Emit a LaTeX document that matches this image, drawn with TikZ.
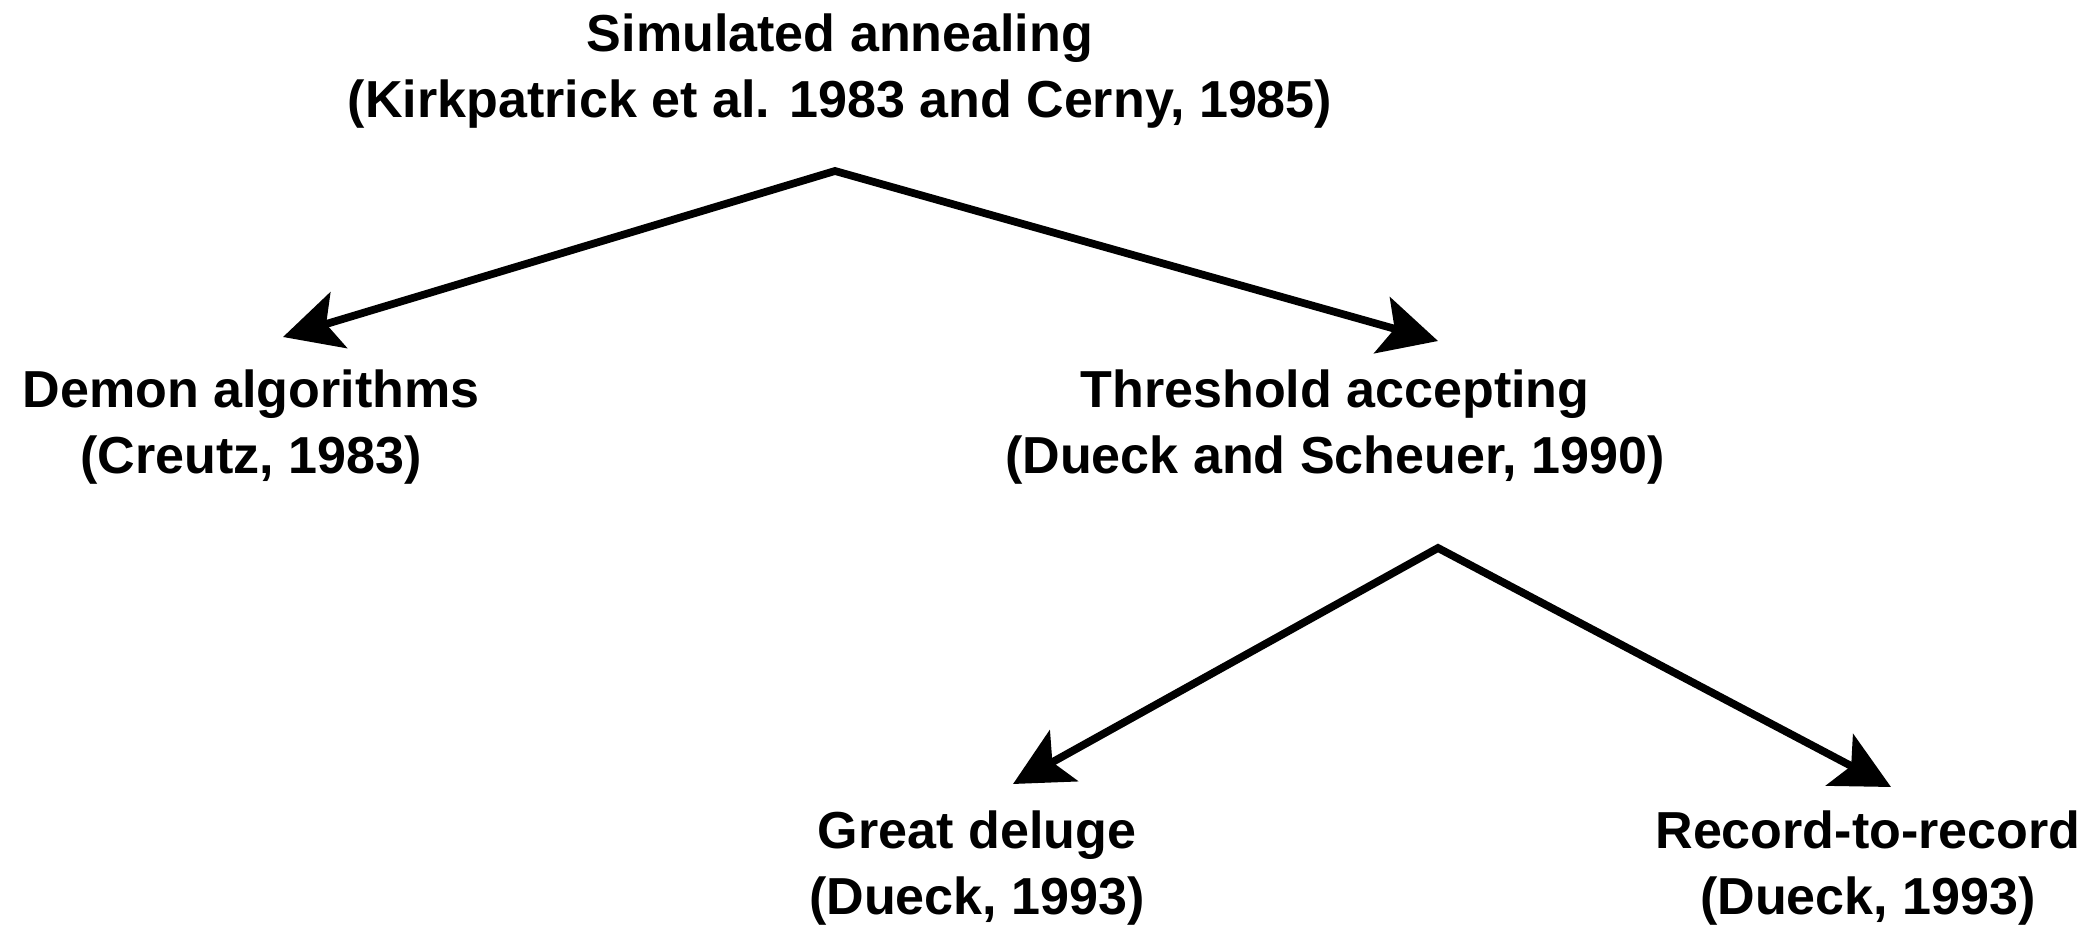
\documentclass[tikz,border=0pt]{standalone}
\usepackage{fontspec}
\setmainfont{Liberation Sans}
\usetikzlibrary{arrows.meta}
\begin{document}
\begin{tikzpicture}[x=0.01cm,y=-0.01cm,
  lbl/.style={align=center, inner sep=0pt, font=\fontsize{14.8}{19}\selectfont\bfseries},
  tipshape/.style={},
  link/.style={line width=2.2pt, line join=miter,
    {Stealth[length=5.8mm,width=5.8mm,inset=1.3mm]}-{Stealth[length=5.8mm,width=5.8mm,inset=1.3mm]}}]
\useasboundingbox (0,0) rectangle (2097,928);
\node[lbl] (sa) at (840,71) {Simulated annealing\\(Kirkpatrick et al. 1983 and Cerny, 1985)};
\node[lbl] (demon) at (251,427) {Demon algorithms\\(Creutz, 1983)};
\node[lbl] (ta) at (1335,427) {Threshold accepting\\(Dueck and Scheuer, 1990)};
\node[lbl] (gd) at (977,868) {Great deluge\\(Dueck, 1993)};
\node[lbl] (rr) at (1868,868) {Record-to-record\\(Dueck, 1993)};
\coordinate (apexA) at (835,171);
\coordinate (tipDemon) at (283,337);
\coordinate (tipTA) at (1438,341);
\coordinate (apexB) at (1438,548);
\coordinate (tipGD) at (1013,784);
\coordinate (tipRR) at (1891,787);
\draw[link] (tipDemon) -- (apexA) -- (tipTA);
\draw[link] (tipGD) -- (apexB) -- (tipRR);
\end{tikzpicture}
\end{document}
